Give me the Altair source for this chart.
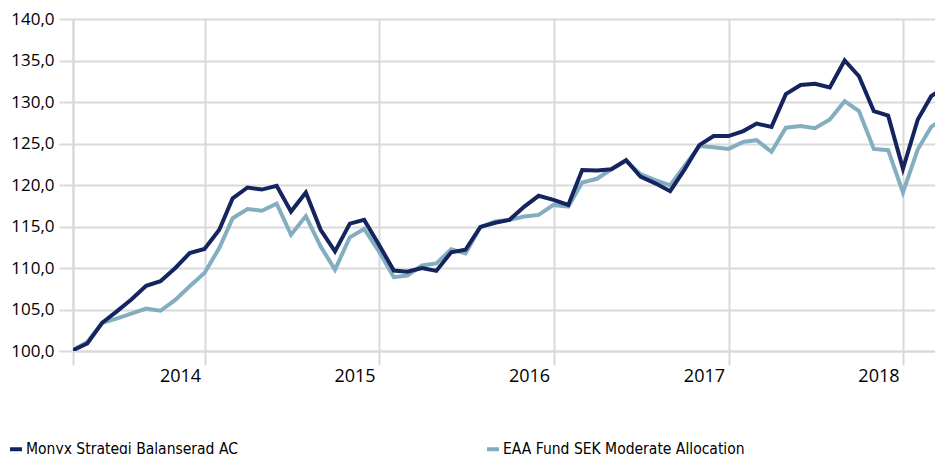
import altair as alt
import pandas as pd

# Month-end observation dates (Mar 2013 .. Mar 2018)
dates = pd.date_range("2013-03-31", "2018-03-31", freq="ME")

series_names = ["Monyx Strategi Balanserad AC", "EAA Fund SEK Moderate Allocation"]
series_colors = ["#15235e", "#82aebf"]

monyx = [100.1, 100.9, 103.4, 104.75, 106.2, 107.85, 108.4, 110.0, 111.8, 112.3,
         114.6, 118.4, 119.7, 119.45, 119.9, 116.8, 119.1, 114.6, 112.0, 115.35,
         115.8, 112.8, 109.7, 109.55, 110.0, 109.65, 111.9, 112.2, 114.95, 115.45,
         115.8, 117.4, 118.7, 118.2, 117.6, 121.8, 121.75, 121.9, 123.0, 121.0,
         120.2, 119.25, 121.85, 124.8, 125.9, 125.9, 126.5, 127.4, 127.0, 130.95,
         132.05, 132.2, 131.75, 135.0, 133.1, 128.9, 128.35, 121.95, 127.9, 130.7,
         131.9]

eaa = [100.1, 101.1, 103.4, 103.9, 104.5, 105.1, 104.85, 106.15, 107.8, 109.4,
       112.4, 116.0, 117.1, 116.9, 117.75, 114.0, 116.25, 112.6, 109.8, 113.7,
       114.7, 112.0, 108.9, 109.1, 110.3, 110.55, 112.25, 111.75, 114.9, 115.6,
       115.8, 116.2, 116.4, 117.6, 117.4, 120.3, 120.75, 121.9, 122.9, 121.3,
       120.6, 119.95, 122.3, 124.7, 124.55, 124.35, 125.2, 125.4, 124.0, 126.9,
       127.1, 126.85, 127.9, 130.1, 128.9, 124.35, 124.2, 119.1, 124.3, 127.0,
       128.2]

y_ticks = [100, 105, 110, 115, 120, 125, 130, 135, 140]

df = pd.concat([
    pd.DataFrame({"date": dates, "value": monyx, "series": series_names[0]}),
    pd.DataFrame({"date": dates, "value": eaa, "series": series_names[1]}),
])

x_start = alt.DateTime(year=2013, month=3, date=31)
x_end = alt.DateTime(year=2018, month=3, date=8)
x_ticks = [x_start] + [alt.DateTime(year=y, month=1, date=1) for y in range(2014, 2019)]

grid_color = "#d9d9d9"

x_enc = alt.X(
    "date:T",
    scale=alt.Scale(domain=[x_start, x_end]),
    axis=alt.Axis(
        values=x_ticks,
        labelExpr="timeFormat(datum.value, '%Y') == '2013' ? '' : timeFormat(datum.value, '%Y')",
        title=None,
        grid=True,
        gridColor=grid_color,
        gridWidth=2,
        tickColor=grid_color,
        tickWidth=2,
        tickSize=14,
        domainColor=grid_color,
        domainWidth=2,
        labelFont="Open Sans",
        labelFontSize=18,
        labelColor="#000000",
        labelPadding=2,
        labelOffset=-25,
        labelFlush=False,
        labelOverlap=False,
    ),
)

y_enc = alt.Y(
    "value:Q",
    scale=alt.Scale(domain=[100, 140], nice=False, zero=False),
    axis=alt.Axis(
        values=y_ticks,
        labelExpr="replace(format(datum.value, '.1f'), '.', ',')",
        title=None,
        grid=True,
        gridColor=grid_color,
        gridWidth=2,
        tickColor=grid_color,
        tickWidth=2,
        tickSize=14,
        domainColor=grid_color,
        domainWidth=2,
        labelFont="Open Sans",
        labelFontSize=17,
        labelColor="#000000",
        labelPadding=5,
    ),
)

color_enc = alt.Color(
    "series:N",
    scale=alt.Scale(domain=series_names, range=series_colors),
    legend=alt.Legend(
        title=None,
        orient="none",
        legendX=-65,
        legendY=422,
        direction="horizontal",
        symbolType="stroke",
        symbolStrokeWidth=4,
        symbolSize=144,
        labelFont="DejaVu Sans Condensed, DejaVu Sans",
        labelFontSize=15.5,
        labelColor="#000000",
        labelOffset=2,
        columnPadding=241,
        labelLimit=400,
    ),
)

base = alt.Chart(df)

light = base.transform_filter(alt.datum.series == series_names[1]).mark_line(
    strokeWidth=4, clip=True
).encode(x=x_enc, y=y_enc, color=color_enc)

dark = base.transform_filter(alt.datum.series == series_names[0]).mark_line(
    strokeWidth=4, clip=True
).encode(x=x_enc, y=y_enc, color=color_enc)

chart = alt.layer(light, dark).properties(
    width=862,
    height=332,
    autosize=alt.AutoSizeParams(type="none"),
    padding={"left": 73, "top": 19, "right": 0, "bottom": 103},
    background="white",
).configure_view(stroke=None)

chart.save("out.html", embed_options={"renderer": "svg", "actions": False})
